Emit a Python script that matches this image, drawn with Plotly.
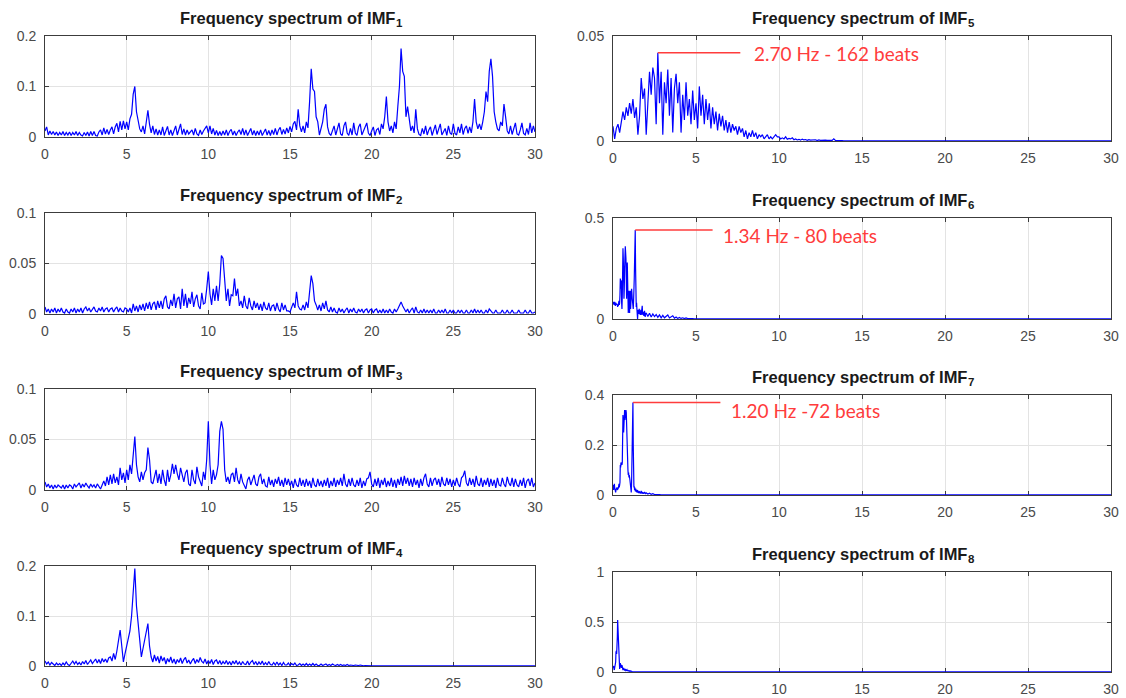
import numpy as np
import plotly.graph_objects as go

# ---------------------------------------------------------------------------
# Amplitude spectra of the eight IMFs (magnitude per frequency bin)
# ---------------------------------------------------------------------------

# IMF1: 0.0 – 30.0 Hz, 0.1 Hz bins
imf1_amp = [
    0.012, 0.02, 0.004, 0.012, 0.005, 0.011, 0.004, 0.01, 0.003, 0.009,
    0.004, 0.011, 0.003, 0.009, 0.004, 0.01, 0.003, 0.009, 0.004, 0.011,
    0.003, 0.009, 0.004, 0.002, 0.009, 0.003, 0.01, 0.002, 0.011, 0.003,
    0.011, 0.003, 0.002, 0.01, 0.014, 0.004, 0.018, 0.006, 0.015, 0.005,
    0.014, 0.02, 0.006, 0.02, 0.027, 0.01, 0.031, 0.014, 0.032, 0.016,
    0.03, 0.014, 0.036, 0.045, 0.085, 0.1, 0.05, 0.03, 0.016, 0.01,
    0.022, 0.006, 0.03, 0.053, 0.025, 0.008, 0.022, 0.005, 0.016, 0.004,
    0.014, 0.004, 0.02, 0.003, 0.012, 0.021, 0.004, 0.014, 0.003, 0.012,
    0.022, 0.004, 0.014, 0.026, 0.005, 0.016, 0.004, 0.014, 0.006, 0.011,
    0.014, 0.004, 0.017, 0.006, 0.003, 0.014, 0.005, 0.012, 0.017, 0.022,
    0.008, 0.022, 0.006, 0.017, 0.004, 0.013, 0.003, 0.011, 0.003, 0.012,
    0.004, 0.014, 0.003, 0.011, 0.015, 0.004, 0.012, 0.003, 0.01, 0.014,
    0.005, 0.017, 0.004, 0.014, 0.003, 0.012, 0.017, 0.004, 0.013, 0.003,
    0.012, 0.004, 0.014, 0.003, 0.011, 0.016, 0.004, 0.013, 0.003, 0.014,
    0.005, 0.017, 0.004, 0.014, 0.019, 0.005, 0.015, 0.006, 0.018, 0.008,
    0.021, 0.01, 0.026, 0.031, 0.014, 0.055, 0.022, 0.01, 0.022, 0.008,
    0.03, 0.018, 0.07, 0.135, 0.095, 0.09, 0.04, 0.03, 0.004, 0.02,
    0.03, 0.055, 0.065, 0.02, 0.007, 0.003, 0.014, 0.022, 0.004, 0.017,
    0.028, 0.006, 0.003, 0.022, 0.03, 0.008, 0.003, 0.017, 0.004, 0.028,
    0.008, 0.003, 0.02, 0.026, 0.004, 0.012, 0.022, 0.028, 0.008, 0.003,
    0.012, 0.02, 0.003, 0.014, 0.017, 0.005, 0.026, 0.016, 0.04, 0.08,
    0.03, 0.012, 0.022, 0.008, 0.03, 0.016, 0.06, 0.1, 0.175, 0.13,
    0.12, 0.04, 0.06, 0.03, 0.012, 0.022, 0.008, 0.055, 0.016, 0.005,
    0.003, 0.017, 0.006, 0.022, 0.004, 0.014, 0.02, 0.003, 0.012, 0.024,
    0.005, 0.014, 0.026, 0.004, 0.012, 0.017, 0.003, 0.022, 0.008, 0.005,
    0.026, 0.007, 0.004, 0.02, 0.008, 0.026, 0.005, 0.017, 0.022, 0.007,
    0.02, 0.008, 0.03, 0.075, 0.03, 0.016, 0.026, 0.014, 0.03, 0.05,
    0.09, 0.07, 0.13, 0.155, 0.12, 0.05, 0.03, 0.016, 0.012, 0.03,
    0.022, 0.065, 0.04, 0.012, 0.006, 0.022, 0.005, 0.017, 0.028, 0.006,
    0.004, 0.014, 0.028, 0.007, 0.004, 0.017, 0.005, 0.028, 0.008, 0.022,
    0.01,
]

# IMF2: 0.0 – 30.0 Hz, 0.1 Hz bins
imf2_amp = [
    0.007, 0.002, 0.005, 0.001, 0.005, 0.002, 0.006, 0.001, 0.005, 0.002,
    0.006, 0.002, 0.001, 0.005, 0.002, 0.001, 0.005, 0.002, 0.006, 0.001,
    0.005, 0.002, 0.006, 0.001, 0.005, 0.007, 0.003, 0.006, 0.002, 0.005,
    0.007, 0.003, 0.002, 0.006, 0.003, 0.007, 0.002, 0.005, 0.006, 0.002,
    0.005, 0.006, 0.002, 0.005, 0.007, 0.002, 0.006, 0.003, 0.002, 0.006,
    0.005, 0.002, 0.006, 0.001, 0.01, 0.003, 0.008, 0.002, 0.009, 0.004,
    0.01, 0.003, 0.011, 0.005, 0.012, 0.004, 0.01, 0.012, 0.004, 0.013,
    0.006, 0.013, 0.005, 0.015, 0.018, 0.007, 0.005, 0.014, 0.008, 0.02,
    0.006, 0.015, 0.017, 0.005, 0.025, 0.008, 0.02, 0.006, 0.016, 0.01,
    0.022, 0.007, 0.015, 0.019, 0.008, 0.005, 0.021, 0.01, 0.011, 0.025,
    0.042, 0.02, 0.009, 0.025, 0.013, 0.028, 0.013, 0.03, 0.058, 0.055,
    0.03, 0.013, 0.025, 0.008, 0.019, 0.018, 0.035, 0.018, 0.025, 0.008,
    0.013, 0.006, 0.018, 0.008, 0.005, 0.016, 0.008, 0.004, 0.013, 0.006,
    0.011, 0.004, 0.01, 0.003, 0.012, 0.006, 0.004, 0.011, 0.003, 0.008,
    0.009, 0.003, 0.011, 0.005, 0.002, 0.011, 0.004, 0.009, 0.003, 0.003,
    0.002, 0.007, 0.011, 0.006, 0.022, 0.008, 0.005, 0.004, 0.009, 0.004,
    0.012, 0.006, 0.025, 0.038, 0.03, 0.013, 0.009, 0.004, 0.009, 0.003,
    0.011, 0.005, 0.013, 0.004, 0.002, 0.007, 0.002, 0.006, 0.002, 0.001,
    0.006, 0.002, 0.005, 0.001, 0.004, 0.006, 0.001, 0.005, 0.002, 0.006,
    0.002, 0.001, 0.005, 0.002, 0.005, 0.001, 0.004, 0.005, 0.001, 0.004,
    0.005, 0.001, 0.004, 0.005, 0.001, 0.004, 0.001, 0.005, 0.001, 0.004,
    0.001, 0.005, 0.002, 0.001, 0.005, 0.002, 0.005, 0.008, 0.012, 0.008,
    0.005, 0.002, 0.005, 0.001, 0.004, 0.006, 0.001, 0.007, 0.002, 0.001,
    0.004, 0.001, 0.005, 0.001, 0.004, 0.001, 0.004, 0.001, 0.005, 0.001,
    0.001, 0.004, 0.001, 0.004, 0.001, 0.005, 0.001, 0.001, 0.004, 0.001,
    0.004, 0.001, 0.001, 0.004, 0.001, 0.004, 0.001, 0.001, 0.004, 0.001,
    0.001, 0.004, 0.001, 0.005, 0.001, 0.004, 0.001, 0.004, 0.001, 0.001,
    0.004, 0.001, 0.005, 0.003, 0.001, 0.001, 0.004, 0.001, 0.001, 0.001,
    0.004, 0.001, 0.001, 0.004, 0.001, 0.001, 0.004, 0.001, 0.001, 0.001,
    0.004, 0.001, 0.001, 0.001, 0.004, 0.001, 0.001, 0.004, 0.001, 0.001,
    0.002,
]

# IMF3: 0.0 – 30.0 Hz, 0.1 Hz bins
imf3_amp = [
    0.008, 0.003, 0.006, 0.002, 0.005, 0.001, 0.005, 0.002, 0.005, 0.003,
    0.002, 0.005, 0.001, 0.005, 0.002, 0.005, 0.004, 0.001, 0.006, 0.003,
    0.005, 0.007, 0.002, 0.006, 0.003, 0.007, 0.004, 0.002, 0.006, 0.003,
    0.005, 0.002, 0.006, 0.003, 0.001, 0.005, 0.009, 0.004, 0.013, 0.005,
    0.015, 0.006, 0.016, 0.007, 0.013, 0.005, 0.022, 0.01, 0.017, 0.007,
    0.02, 0.01, 0.025, 0.016, 0.04, 0.053, 0.025, 0.013, 0.008, 0.018,
    0.01, 0.017, 0.02, 0.042, 0.03, 0.008, 0.006, 0.015, 0.02, 0.007,
    0.016, 0.006, 0.02, 0.01, 0.004, 0.02, 0.008, 0.015, 0.026, 0.016,
    0.025, 0.016, 0.01, 0.022, 0.013, 0.008, 0.017, 0.02, 0.006, 0.004,
    0.02, 0.01, 0.006, 0.023, 0.013, 0.008, 0.004, 0.018, 0.01, 0.03,
    0.068, 0.025, 0.006, 0.02, 0.01, 0.015, 0.025, 0.058, 0.068, 0.06,
    0.02, 0.008, 0.013, 0.006, 0.015, 0.017, 0.008, 0.022, 0.01, 0.006,
    0.016, 0.008, 0.004, 0.001, 0.01, 0.013, 0.005, 0.011, 0.015, 0.006,
    0.004, 0.013, 0.016, 0.006, 0.011, 0.004, 0.003, 0.013, 0.005, 0.01,
    0.003, 0.011, 0.006, 0.013, 0.004, 0.01, 0.003, 0.012, 0.005, 0.011,
    0.004, 0.009, 0.002, 0.011, 0.005, 0.003, 0.012, 0.004, 0.01, 0.003,
    0.011, 0.004, 0.009, 0.002, 0.012, 0.005, 0.003, 0.011, 0.004, 0.009,
    0.003, 0.01, 0.004, 0.012, 0.002, 0.009, 0.004, 0.012, 0.003, 0.01,
    0.005, 0.012, 0.004, 0.016, 0.006, 0.003, 0.011, 0.004, 0.012, 0.005,
    0.003, 0.01, 0.004, 0.012, 0.002, 0.009, 0.004, 0.011, 0.012, 0.018,
    0.006, 0.003, 0.011, 0.004, 0.012, 0.002, 0.01, 0.005, 0.012, 0.003,
    0.009, 0.004, 0.012, 0.003, 0.01, 0.002, 0.011, 0.005, 0.013, 0.004,
    0.014, 0.006, 0.012, 0.004, 0.011, 0.003, 0.012, 0.005, 0.01, 0.002,
    0.011, 0.004, 0.012, 0.016, 0.006, 0.003, 0.012, 0.004, 0.01, 0.012,
    0.005, 0.011, 0.003, 0.013, 0.006, 0.004, 0.012, 0.005, 0.011, 0.003,
    0.01, 0.004, 0.012, 0.006, 0.003, 0.012, 0.014, 0.019, 0.007, 0.004,
    0.012, 0.005, 0.011, 0.003, 0.014, 0.006, 0.004, 0.012, 0.003, 0.01,
    0.005, 0.012, 0.003, 0.011, 0.004, 0.01, 0.002, 0.012, 0.005, 0.004,
    0.012, 0.006, 0.003, 0.013, 0.007, 0.004, 0.012, 0.003, 0.011, 0.005,
    0.003, 0.01, 0.004, 0.012, 0.002, 0.009, 0.011, 0.004, 0.012, 0.003,
    0.007,
]

# IMF4: 0.0 – 19.9 Hz at 0.1 Hz, then a flat tail
imf4_amp = [
    0.01, 0.004, 0.008, 0.002, 0.007, 0.003, 0.001, 0.006, 0.002, 0.005,
    0.001, 0.006, 0.002, 0.008, 0.003, 0.001, 0.007, 0.01, 0.004, 0.009,
    0.003, 0.007, 0.002, 0.009, 0.004, 0.011, 0.003, 0.008, 0.012, 0.005,
    0.01, 0.014, 0.006, 0.013, 0.005, 0.015, 0.008, 0.014, 0.007, 0.016,
    0.018, 0.01, 0.025, 0.013, 0.03, 0.05, 0.072, 0.04, 0.008, 0.025,
    0.04, 0.055, 0.07, 0.1, 0.14, 0.195, 0.12, 0.08, 0.04, 0.018,
    0.035, 0.05, 0.065, 0.085, 0.04, 0.018, 0.008, 0.022, 0.01, 0.019,
    0.006, 0.02, 0.01, 0.017, 0.004, 0.015, 0.008, 0.018, 0.006, 0.014,
    0.004, 0.013, 0.007, 0.016, 0.005, 0.013, 0.017, 0.006, 0.012, 0.004,
    0.011, 0.015, 0.005, 0.013, 0.007, 0.017, 0.009, 0.006, 0.014, 0.004,
    0.011, 0.005, 0.013, 0.003, 0.01, 0.012, 0.004, 0.011, 0.003, 0.009,
    0.004, 0.011, 0.003, 0.009, 0.002, 0.01, 0.004, 0.011, 0.003, 0.008,
    0.002, 0.009, 0.004, 0.003, 0.01, 0.002, 0.008, 0.011, 0.003, 0.009,
    0.002, 0.008, 0.003, 0.01, 0.002, 0.007, 0.002, 0.009, 0.003, 0.002,
    0.007, 0.002, 0.008, 0.002, 0.006, 0.001, 0.007, 0.002, 0.002, 0.006,
    0.001, 0.005, 0.002, 0.006, 0.001, 0.002, 0.005, 0.001, 0.004, 0.001,
    0.005, 0.001, 0.004, 0.001, 0.005, 0.001, 0.004, 0.001, 0.001, 0.004,
    0.001, 0.003, 0.004, 0.001, 0.003, 0.001, 0.004, 0.002, 0.001, 0.003,
    0.001, 0.003, 0.001, 0.002, 0.001, 0.003, 0.001, 0.002, 0.001, 0.001,
    0.002, 0.001, 0.001, 0.002, 0.001, 0.0005, 0.001, 0.0005, 0.001, 0.0005,
]
imf4_tail_f = [20, 25, 30]
imf4_tail = [0.0004, 0.0004, 0.0004]

# IMF5: 0.0 – 13.9 Hz at 0.1 Hz, then a flat tail
imf5_amp = [
    0.007, 0.001, 0.006, 0.008, 0.004, 0.01, 0.014, 0.01, 0.016, 0.012,
    0.018, 0.013, 0.02, 0.011, 0.016, 0.003, 0.012, 0.03, 0.02, 0.025,
    0.003, 0.018, 0.033, 0.022, 0.035, 0.03, 0.008, 0.042, 0.018, 0.033,
    0.003, 0.028, 0.018, 0.034, 0.012, 0.03, 0.004, 0.025, 0.032, 0.018,
    0.028, 0.004, 0.022, 0.01, 0.028, 0.012, 0.02, 0.008, 0.024, 0.01,
    0.018, 0.006, 0.026, 0.012, 0.022, 0.008, 0.02, 0.01, 0.018, 0.006,
    0.016, 0.008, 0.014, 0.005, 0.013, 0.007, 0.012, 0.005, 0.01, 0.004,
    0.009, 0.004, 0.008, 0.005, 0.007, 0.003, 0.007, 0.004, 0.006, 0.002,
    0.005, 0.001, 0.004, 0.002, 0.005, 0.002, 0.004, 0.001, 0.003, 0.002,
    0.003, 0.001, 0.002, 0.003, 0.001, 0.002, 0.001, 0.002, 0.003, 0.002,
    0.002, 0.001, 0.0015, 0.001, 0.002, 0.0008, 0.0012, 0.001, 0.0015, 0.0006,
    0.001, 0.0005, 0.0008, 0.0004, 0.0009, 0.0005, 0.0007, 0.0003, 0.0006, 0.0004,
    0.0005, 0.0003, 0.0006, 0.0002, 0.0005, 0.0003, 0.0004, 0.0002, 0.0004, 0.0003,
    0.0004, 0.0002, 0.0003, 0.001, 0.0003, 0.0002, 0.0003, 0.0001, 0.0002, 0.0001,
]
imf5_tail_f = [14, 20, 25, 30]
imf5_tail = [0.0001, 0.0001, 0.0001, 0.0001]

# IMF6: 0.00 – 1.98 Hz at 0.02 Hz, 2.0 – 4.9 Hz at 0.1 Hz, then a flat tail
imf6_lo = [
    0.08, 0.075, 0.085, 0.07, 0.08, 0.085, 0.07, 0.065, 0.08, 0.075,
    0.08, 0.07, 0.075, 0.065, 0.06, 0.07, 0.065, 0.08, 0.09, 0.07,
    0.08, 0.12, 0.2, 0.19, 0.15, 0.19, 0.08, 0.05, 0.12, 0.28,
    0.35, 0.3, 0.22, 0.1, 0.15, 0.25, 0.3, 0.36, 0.33, 0.3,
    0.2, 0.1, 0.18, 0.28, 0.22, 0.05, 0.03, 0.1, 0.14, 0.06,
    0.03, 0.12, 0.14, 0.05, 0.08, 0.12, 0.15, 0.13, 0.1, 0.06,
    0.08, 0.05, 0.09, 0.12, 0.2, 0.28, 0.36, 0.44, 0.25, 0.1,
    0.06, 0.08, 0.05, 0.02, 0.0, 0.03, 0.045, 0.04, 0.025, 0.05,
    0.03, 0.04, 0.02, 0.035, 0.045, 0.02, 0.03, 0.05, 0.065, 0.03,
    0.02, 0.035, 0.025, 0.015, 0.03, 0.04, 0.02, 0.01, 0.025, 0.03,
]
imf6_mid = [
    0.03, 0.012, 0.028, 0.01, 0.025, 0.012, 0.022, 0.008, 0.02, 0.006,
    0.018, 0.006, 0.014, 0.02, 0.005, 0.013, 0.016, 0.004, 0.01, 0.003,
    0.008, 0.003, 0.006, 0.002, 0.005, 0.002, 0.003, 0.001, 0.002, 0.001,
]
imf6_tail_f = [5, 10, 15, 20, 25, 30]
imf6_tail = [0.001, 0.001, 0.001, 0.001, 0.001, 0.001]

# IMF7: 0.00 – 1.98 Hz at 0.02 Hz, 2.0 – 2.9 Hz at 0.1 Hz, then a flat tail
imf7_lo = [
    0.04, 0.03, 0.02, 0.035, 0.045, 0.03, 0.015, 0.02, 0.01, 0.02,
    0.025, 0.02, 0.03, 0.025, 0.02, 0.03, 0.025, 0.035, 0.045, 0.03,
    0.035, 0.05, 0.12, 0.11, 0.13, 0.12, 0.125, 0.12, 0.13, 0.2,
    0.32, 0.3, 0.25, 0.28, 0.33, 0.34, 0.3, 0.33, 0.31, 0.34,
    0.33, 0.25, 0.19, 0.16, 0.12, 0.1, 0.08, 0.09, 0.07, 0.08,
    0.07, 0.06, 0.05, 0.04, 0.02, 0.01, 0.05, 0.12, 0.22, 0.3,
    0.37, 0.2, 0.06, 0.03, 0.035, 0.02, 0.03, 0.015, 0.02, 0.025,
    0.012, 0.02, 0.01, 0.015, 0.02, 0.01, 0.014, 0.008, 0.012, 0.016,
    0.009, 0.012, 0.006, 0.014, 0.008, 0.016, 0.01, 0.006, 0.012, 0.008,
    0.012, 0.005, 0.01, 0.006, 0.009, 0.012, 0.005, 0.008, 0.004, 0.007,
]
imf7_mid = [0.009, 0.004, 0.007, 0.003, 0.005, 0.002, 0.003, 0.002, 0.002, 0.001]
imf7_tail_f = [3, 10, 20, 30]
imf7_tail = [0.001, 0.001, 0.001, 0.001]

# IMF8: 0.00 – 1.18 Hz at 0.02 Hz, then a flat tail
imf8_lo = [
    0.04, 0.05, 0.06, 0.03, 0.02, 0.04, 0.06, 0.05, 0.1, 0.2,
    0.21, 0.18, 0.22, 0.35, 0.52, 0.45, 0.38, 0.3, 0.12, 0.05,
    0.03, 0.06, 0.09, 0.08, 0.05, 0.04, 0.06, 0.07, 0.05, 0.03,
    0.02, 0.035, 0.04, 0.03, 0.02, 0.015, 0.025, 0.03, 0.02, 0.012,
    0.015, 0.022, 0.025, 0.015, 0.01, 0.012, 0.015, 0.01, 0.006, 0.008,
    0.012, 0.009, 0.005, 0.007, 0.01, 0.006, 0.004, 0.005, 0.003, 0.002,
]
imf8_tail_f = [1.2, 10, 20, 30]
imf8_tail = [0.001, 0.001, 0.001, 0.001]

# Y-axis tick values per IMF
y_ticks = {
    1: [0, 0.1, 0.2],
    2: [0, 0.05, 0.1],
    3: [0, 0.05, 0.1],
    4: [0, 0.1, 0.2],
    5: [0, 0.05],
    6: [0, 0.5],
    7: [0, 0.2, 0.4],
    8: [0, 0.5, 1],
}
x_ticks = [0, 5, 10, 15, 20, 25, 30]

# Heart-rate call-outs
peak_labels = {
    5: "2.70 Hz - 162 beats",
    6: "1.34 Hz - 80 beats",
    7: "1.20 Hz -72 beats",
}


def bins(start, step, count):
    return list(np.round(start + np.arange(count) * step, 3))


spectra = {
    1: (bins(0, 0.1, len(imf1_amp)), imf1_amp),
    2: (bins(0, 0.1, len(imf2_amp)), imf2_amp),
    3: (bins(0, 0.1, len(imf3_amp)), imf3_amp),
    4: (bins(0, 0.1, len(imf4_amp)) + imf4_tail_f, imf4_amp + imf4_tail),
    5: (bins(0, 0.1, len(imf5_amp)) + imf5_tail_f, imf5_amp + imf5_tail),
    6: (bins(0, 0.02, len(imf6_lo)) + bins(2.0, 0.1, len(imf6_mid)) + imf6_tail_f,
        imf6_lo + imf6_mid + imf6_tail),
    7: (bins(0, 0.02, len(imf7_lo)) + bins(2.0, 0.1, len(imf7_mid)) + imf7_tail_f,
        imf7_lo + imf7_mid + imf7_tail),
    8: (bins(0, 0.02, len(imf8_lo)) + imf8_tail_f, imf8_lo + imf8_tail),
}

# ---------------------------------------------------------------------------
# Layout geometry (pixels in a 1126 x 698 canvas)
# ---------------------------------------------------------------------------
W, H = 1126, 698
col_x = {0: (45, 535), 1: (613, 1111)}
rows_left = [(36, 137), (213, 314), (389, 490), (566, 666)]
rows_right = [(36, 141), (218, 319), (395, 495), (572, 672)]

AXIS_COLOR = "#3c3c3c"
GRID_COLOR = "#e3e3e3"
TICK_FONT = dict(family="Liberation Sans, Arial, sans-serif", size=14, color="#4a4a4a")
TITLE_FONT = dict(family="Liberation Sans, Arial, sans-serif", size=16.5,
                  color="#1a1a1a", weight="bold")
SUB_FONT = dict(family="Liberation Sans, Arial, sans-serif", size=11.5,
                color="#1a1a1a", weight="bold")
RED = "#ff3c3c"

# Advance widths (per 1000 em) of the bold sans glyphs used in the titles,
# used to centre title + subscript as one unit.
BOLD_W = {"F": 611, "r": 389, "e": 556, "q": 611, "u": 611, "n": 611, "c": 556,
          "y": 556, " ": 278, "s": 556, "p": 611, "t": 333, "m": 889, "o": 611,
          "f": 333, "I": 278, "M": 833}
TITLE_MAIN = "Frequency spectrum of IMF"
main_w = sum(BOLD_W[ch] for ch in TITLE_MAIN) / 1000 * TITLE_FONT["size"]
sub_w = 0.556 * SUB_FONT["size"]
BOX_PAD = 2  # annotation border padding + border width, in px

fig = go.Figure()
annotations = []
shapes = []

for k in range(1, 9):
    col = 0 if k <= 4 else 1
    row = (k - 1) % 4
    top, bot = (rows_left if col == 0 else rows_right)[row]
    x0, x1 = col_x[col]
    xdom = [x0 / W, x1 / W]
    ydom = [1 - bot / H, 1 - top / H]
    sfx = "" if k == 1 else str(k)

    f, a = spectra[k]
    fig.add_trace(go.Scatter(
        x=f, y=a, mode="lines",
        line=dict(color="#0000ff", width=1.2),
        xaxis="x" + sfx, yaxis="y" + sfx,
        hoverinfo="skip", showlegend=False,
    ))

    yt = y_ticks[k]
    common = dict(
        showline=True, linecolor=AXIS_COLOR, linewidth=1, mirror="ticks",
        ticks="inside", ticklen=4, tickcolor=AXIS_COLOR, tickwidth=1,
        showgrid=True, gridcolor=GRID_COLOR, gridwidth=1,
        zeroline=False, tickfont=TICK_FONT, layer="below traces",
        fixedrange=True, automargin=False,
    )
    fig.update_layout(**{
        "xaxis" + sfx: dict(
            domain=xdom, range=[0, 30], anchor="y" + sfx,
            tickvals=x_ticks, ticktext=[str(v) for v in x_ticks],
            ticklabelstandoff=4, **common,
        ),
        "yaxis" + sfx: dict(
            domain=ydom, range=[0, yt[-1]], anchor="x" + sfx,
            tickvals=yt, ticktext=[f"{v:g}" for v in yt],
            ticklabelstandoff=5, **common,
        ),
    })

    # Panel title: bold main text followed by a subscript index
    cx = (x0 + x1) / 2
    split_px = cx - (main_w + sub_w) / 2 + main_w
    annotations.append(dict(
        text=TITLE_MAIN, x=split_px / W, y=1 - top / H,
        xref="paper", yref="paper", xanchor="right", yanchor="middle",
        xshift=BOX_PAD, yshift=18, showarrow=False, font=TITLE_FONT,
    ))
    annotations.append(dict(
        text=str(k), x=split_px / W, y=1 - top / H,
        xref="paper", yref="paper", xanchor="left", yanchor="middle",
        xshift=-BOX_PAD + 1, yshift=13, showarrow=False, font=SUB_FONT,
    ))

    # Peak call-out: red leader from the spectral maximum to the label
    if k in peak_labels:
        i = int(np.argmax(a))
        fp, ap = f[i], a[i]
        label_x = {5: 8.4, 6: 6.5, 7: 7.0}[k]
        line_end = {5: 7.67, 6: 6.0, 7: 6.47}[k]
        yshift = {5: -1, 6: -5, 7: -8}[k]
        shapes.append(dict(
            type="line", xref="x" + sfx, yref="y" + sfx,
            x0=fp, x1=line_end, y0=ap, y1=ap,
            line=dict(color=RED, width=1.5),
        ))
        annotations.append(dict(
            text=peak_labels[k], x=label_x, y=ap,
            xref="x" + sfx, yref="y" + sfx,
            xanchor="left", yanchor="middle", yshift=yshift, showarrow=False,
            font=dict(family="Lato, sans-serif", size=19, color=RED),
        ))

fig.update_layout(
    template="none",
    width=W, height=H,
    margin=dict(l=0, r=0, t=0, b=0, pad=0, autoexpand=False),
    paper_bgcolor="white", plot_bgcolor="white",
    showlegend=False,
    annotations=annotations, shapes=shapes,
)

fig.write_html("out.html")
